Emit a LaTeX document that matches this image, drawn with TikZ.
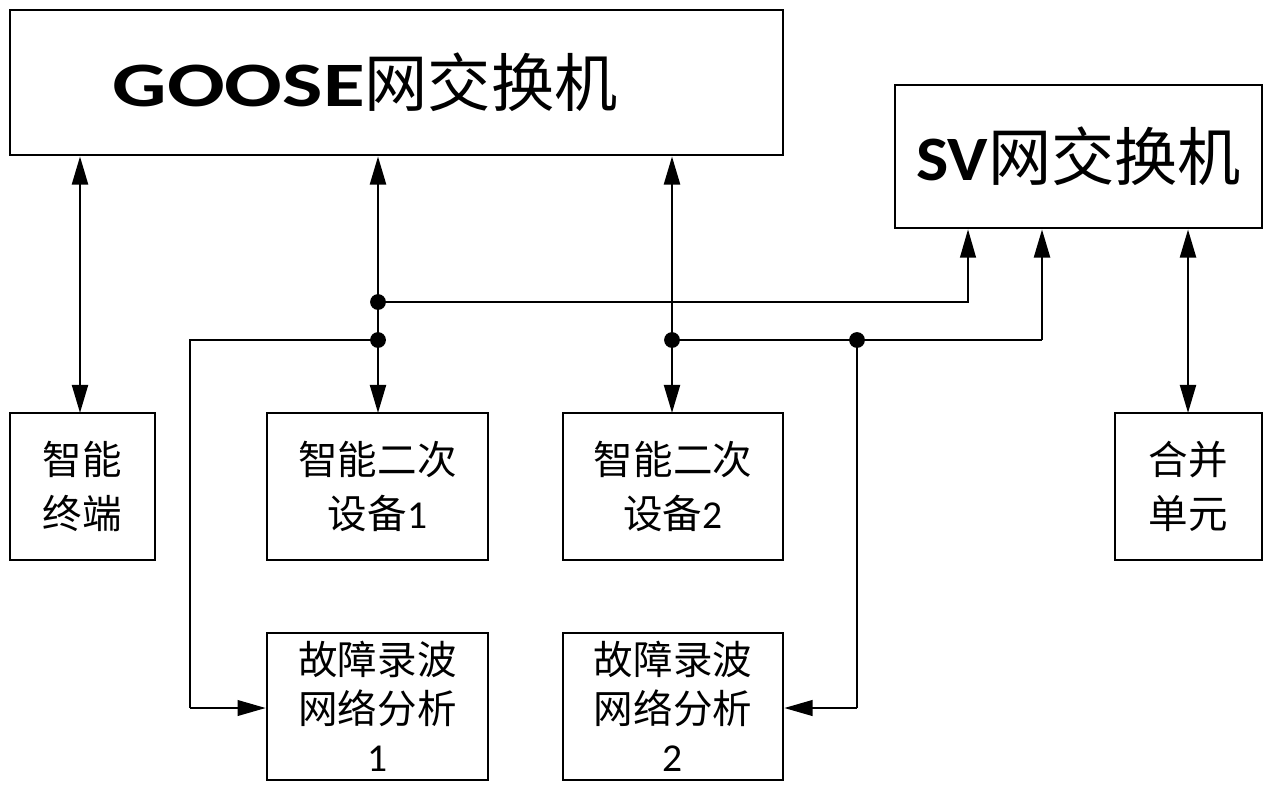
\documentclass[tikz,border=0pt]{standalone}
\usepackage{fontspec}
\setmainfont{Carlito}
\newfontfamily\cjk{Noto Sans CJK SC}
\usetikzlibrary{arrows.meta}
\begin{document}
\begin{tikzpicture}[x=0.02cm,y=-0.02cm,
  box/.style={draw,line width=1.6pt,inner sep=0pt,align=center},
  big/.style={font=\fontsize{36}{42}\selectfont},
  small/.style={font=\fontsize{22.5}{31}\selectfont},
  fault/.style={font=\fontsize{22.5}{27.5}\selectfont},
  thick link/.style={line width=1.6pt},
  thin link/.style={line width=0.8pt},
  ah/.tip={Triangle[length=16pt,width=9pt]},
  dot/.style={circle,fill,inner sep=0pt,minimum size=9pt}]
\useasboundingbox (0,0) rectangle (1273,795);
\node[box,big,minimum width=15.46cm,minimum height=2.9cm] (goose) at (396.5,82.5) {\scalebox{1.35}[1]{\textbf{GOOSE}}{\cjk 网交换机}\hspace*{1.25cm}};
\node[box,big,minimum width=7.34cm,minimum height=2.86cm] (sv) at (1078.5,156.5) {\scalebox{1.08}[1]{\textbf{SV}}{\cjk 网交换机}};
\node[box,small,minimum width=2.9cm,minimum height=2.94cm] (term) at (82.5,486.5) {{\cjk 智能}\\{\cjk 终端}};
\node[box,small,minimum width=4.42cm,minimum height=2.94cm] (dev1) at (377.5,486.5) {{\cjk 智能二次}\\{\cjk 设备}1};
\node[box,small,minimum width=4.4cm,minimum height=2.94cm] (dev2) at (673,486.5) {{\cjk 智能二次}\\{\cjk 设备}2};
\node[box,small,minimum width=2.94cm,minimum height=2.94cm] (mu) at (1188.5,486.5) {{\cjk 合并}\\{\cjk 单元}};
\node[box,fault,minimum width=4.42cm,minimum height=2.94cm] (fr1) at (377.5,706.5) {{\cjk 故障录波}\\{\cjk 网络分析}\\1};
\node[box,fault,minimum width=4.4cm,minimum height=2.94cm] (fr2) at (673,706.5) {{\cjk 故障录波}\\{\cjk 网络分析}\\2};
% junctions
\coordinate (j1) at (378,302);
\coordinate (j2) at (378,340);
\coordinate (j3) at (672,340);
\coordinate (j4) at (857,340);
\coordinate (t1) at (80,413);
\coordinate (d1) at (378,413);
\coordinate (d2) at (672,413);
\coordinate (s1) at (968,302);
\coordinate (s2) at (1042,340);
\coordinate (m1) at (1188,413);
\coordinate (l1) at (190,340);
\coordinate (f1) at (190,708);
\coordinate (f2) at (857,708);
% bidirectional GOOSE links
\draw[thick link,{ah}-{ah}] (t1 |- goose.south) -- (t1);
\draw[thick link,{ah}-{ah}] (d1 |- goose.south) -- (d1);
\draw[thick link,{ah}-{ah}] (d2 |- goose.south) -- (d2);
\draw[thick link,{ah}-{ah}] (m1 |- sv.south) -- (m1);
% SV links
\draw[thin link,-{ah}] (j1) -- (s1) -- (s1 |- sv.south);
\draw[thin link] (j3) -- (s2);
\draw[thick link,-{ah}] (s2) -- (s2 |- sv.south);
% fault recorder links
\draw[thin link] (j2) -- (l1) -- (f1);
\draw[thin link,-{ah}] (f1) -- (f1 -| fr1.west);
\draw[thin link] (j4) -- (f2);
\draw[thin link,-{ah}] (f2) -- (f2 -| fr2.east);
\node[dot] at (j1) {};
\node[dot] at (j2) {};
\node[dot] at (j3) {};
\node[dot] at (j4) {};
\end{tikzpicture}
\end{document}
